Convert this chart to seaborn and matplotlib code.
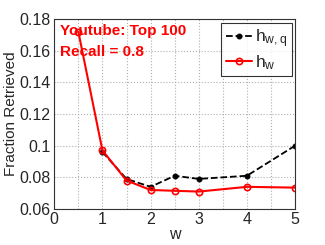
import matplotlib
matplotlib.use("Agg")
import matplotlib.pyplot as plt
import seaborn as sns
import pandas as pd
from matplotlib.ticker import MultipleLocator

# values
w_red = [0.5, 1, 1.5, 2, 2.5, 3, 4, 5]
h_w = [0.172, 0.097, 0.078, 0.072, 0.0715, 0.071, 0.074, 0.0735]
w_black = [1, 1.5, 2, 2.5, 3, 4, 5]
h_wq = [0.096, 0.079, 0.074, 0.081, 0.079, 0.081, 0.100]

sns.set_style("white")
plt.rcParams['font.family'] = ['Liberation Sans', 'DejaVu Sans']
plt.rcParams['mathtext.fontset'] = 'custom'
plt.rcParams['mathtext.rm'] = 'Liberation Sans'
plt.rcParams['mathtext.it'] = 'Liberation Sans'

fig, ax = plt.subplots(figsize=(3.25, 2.45), dpi=100)

sns.lineplot(x=w_black, y=h_wq, ax=ax, color='black', linestyle='--',
             marker='o', markersize=3.5, markeredgecolor='black',
             linewidth=1.3, label=r'$\mathrm{h_{w,q}}$')
sns.lineplot(x=w_red, y=h_w, ax=ax, color='red', marker='o',
             markersize=4.5, markerfacecolor='none', markeredgecolor='red',
             markeredgewidth=1.2, linewidth=1.5, label=r'$\mathrm{h_w}$')

ax.set_xlim(0, 5)
ax.set_ylim(0.06, 0.18)
ax.set_xticks([0, 1, 2, 3, 4, 5])
ax.xaxis.set_minor_locator(MultipleLocator(0.5))
ax.set_yticks([0.06, 0.08, 0.1, 0.12, 0.14, 0.16, 0.18])
ax.set_yticklabels(['0.06', '0.08', '0.1', '0.12', '0.14', '0.16', '0.18'])
ax.grid(True, which='both', axis='x', linestyle=':', color='#b0b0b0', linewidth=0.8)
ax.grid(True, which='major', axis='y', linestyle=':', color='#b0b0b0', linewidth=0.8)
ax.tick_params(labelsize=11.5, direction='in', length=3, which='both', pad=2.5)
ax.tick_params(which='minor', length=0)
for s in ax.spines.values():
    s.set_color('#333333')
    s.set_linewidth(0.8)

ax.set_xlabel('w', fontsize=11.5, labelpad=0)
ax.set_ylabel('Fraction Retrieved', fontsize=11, labelpad=1)

ax.text(0.025, 0.937, 'Youtube: Top 100', transform=ax.transAxes, color='red',
        fontsize=11, fontweight='bold', va='center')
ax.text(0.025, 0.826, 'Recall = 0.8', transform=ax.transAxes, color='red',
        fontsize=11, fontweight='bold', va='center')

leg = ax.legend(loc='upper right', fontsize=12.5, frameon=True, fancybox=False,
                edgecolor='black', handlelength=1.5, handletextpad=0.2,
                borderpad=0.25, labelspacing=0.2, borderaxespad=0.2)
leg.get_frame().set_linewidth(0.8)

fig.subplots_adjust(left=0.167, right=0.908, top=0.922, bottom=0.147)
fig.savefig('out.png', dpi=100)
